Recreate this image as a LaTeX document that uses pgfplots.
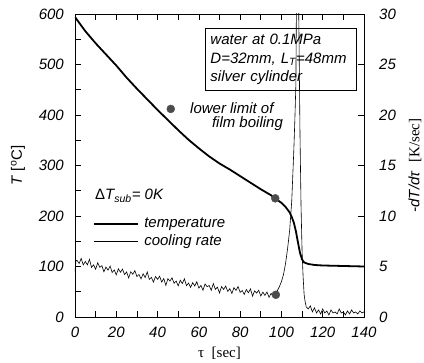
\documentclass[border=0pt]{standalone}
\usepackage{pgfplots}
\pgfplotsset{compat=1.18}
\usepackage{fontspec}
\setmainfont{Liberation Sans}
\newfontfamily\tnr{Liberation Serif}
\newcommand{\fs}{\fontsize{15}{18.5}\selectfont}

\pgfplotstableread{
x T
0 594
5 566
10 542
15 520
20 498
25 474
30 452
35 431
40 410
45 390
50 370
55 351
60 334
65 318
70 304
75 292
80 279
85 266
90 253
95 241
97 235
100 226
102 218
104 207
105 198
106 187
107 170
108 148
109 127
110 114
111 108
113 105
116 103
120 102
130 101
140 100
}\temptable

\pgfplotstableread{
x r
0 4.5
0.5 5.6
1 5.60
2 5.30
3 5.80
4 5.15
5 5.50
6 5.16
7 5.71
8 4.91
9 5.16
10 4.72
11 5.37
12 4.92
13 5.08
14 4.48
15 4.94
16 4.64
17 5.05
18 4.41
19 4.66
20 4.17
21 4.77
22 4.43
23 4.74
24 4.20
25 4.46
26 3.86
27 4.47
28 4.23
29 4.59
30 4.00
31 4.21
32 3.77
33 4.28
34 3.90
35 4.46
36 3.72
37 3.93
38 3.45
39 4.01
40 3.72
41 4.04
42 3.45
43 3.81
44 3.13
45 3.79
46 3.56
47 3.88
48 3.34
49 3.56
50 3.08
51 3.64
52 3.31
53 3.78
54 3.10
55 3.36
56 2.93
57 3.40
58 3.07
59 3.49
60 2.86
61 3.13
62 2.65
63 3.27
64 3.00
65 3.12
66 2.64
67 3.31
68 2.74
69 2.96
70 2.38
71 3.01
72 2.73
73 3.06
74 2.53
75 2.81
76 2.33
77 2.91
78 2.63
79 3.01
80 2.44
81 2.62
82 2.24
83 2.72
84 2.40
85 2.78
86 2.06
87 2.59
88 2.37
89 2.65
90 2.08
91 2.46
92 2.14
93 2.47
94 1.95
95 2.33
96 2.11
97 2.25
98 2.6
99 3.0
100 3.5
101 4.2
102 5.3
103 6.8
104 8.6
105 11.5
106 16.5
106.5 19.5
107 23
107.5 38
108 36
108.5 28
109 18
109.5 11
110 6.5
110.5 4.0
111 2.2
111.5 1.5
112 1.0
113 0.8
114 1.1
115 0.5
116 0.9
117 0.4
118 0.7
119 0.3
120 0.8
121 0.4
122 0.6
123 0.2
124 0.7
125 0.4
126 0.5
127 0.3
128 0.8
129 0.4
130 0.5
131 0.2
132 0.6
133 0.3
134 0.7
135 0.4
136 0.5
137 0.3
138 0.6
139 0.4
140 0.5
}\ratetable

\begin{document}
\begin{tikzpicture}
\path[use as bounding box] (-75pt,-46pt) rectangle (349pt,317pt);
\pgfplotsset{
 common/.style={
  at={(0pt,0pt)}, anchor=south west, scale only axis, width=289pt, height=303pt,
  xmin=0, xmax=140,
  tick align=inside,
  major tick length=6pt, minor tick length=6pt,
  every tick/.style={black, line width=0.7pt},
  axis line style={line width=0.8pt},
  tick label style={font=\fs\itshape},
  /pgf/number format/assume math mode=true,
  label style={font=\fs},
 }
}
\begin{axis}[common,
 ymin=0, ymax=600,
 xtick={0,20,...,140}, minor x tick num=1,
 ytick={0,100,...,600}, minor y tick num=1,
 ytick pos=left,
 yticklabel style={inner sep=0pt, xshift=-11pt},
 xticklabel style={inner sep=0pt, yshift=-10pt},
 xlabel={{\tnr τ\ \ [sec]}},
 ylabel={\textit{T} [\textsuperscript{o}C]},
 xlabel style={at={(axis description cs:0.5,-0.119)}, anchor=center},
 ylabel style={at={(axis description cs:-0.197,0.5)}, anchor=center},
 legend style={at={(axis cs:8.6,166.5)}, anchor=west, draw=none, fill=none,
   font=\fs\itshape, inner sep=0pt, row sep=0pt, column sep=0pt,
   nodes={inner xsep=5.5pt, inner ysep=1.6pt, text height=11pt, text depth=3.5pt}},
 legend cell align=left,
 legend image code/.code={\draw[#1] (0pt,0pt) -- (44pt,0pt);},
]
\addplot[black, line width=1.8pt] table[x=x,y=T] {\temptable};
\addlegendentry{temperature}
\addlegendimage{black, line width=0.6pt}
\addlegendentry{cooling rate}
\addplot[only marks, mark=*, mark size=4pt, draw=black!70, fill=black!70, forget plot] coordinates {(46.4,412) (97,235)};
\node[anchor=base west, font=\fs\itshape, inner sep=0pt] at (axis cs:9.7,232) {\upshape Δ\itshape T\textsubscript{sub}= 0K};
\node[anchor=west, font=\fs\itshape, inner sep=0pt] at (axis cs:55.7,414) {lower limit of};
\node[anchor=east, font=\fs\itshape, inner sep=0pt] at (axis cs:100.8,382) {film boiling};
\node[draw, line width=0.8pt, fill=white, anchor=north west, font=\fs\itshape, align=left,
      text width=141pt, inner xsep=5pt, inner ysep=6pt] at (axis cs:63,573)
  {water at 0.1MPa\\D=32mm, L\textsubscript{T}=48mm\\silver cylinder};
\end{axis}
\begin{axis}[common,
 ymin=0, ymax=30,
 axis y line*=right, axis x line=none,
 ytick={0,5,...,30},
 yticklabel style={inner sep=0pt, xshift=15pt},
 ylabel={\textit{-dT/dτ}\ \ {\tnr [K/sec]}},
 ylabel style={at={(axis description cs:1.176,0.5)}, anchor=center, rotate=0},
]
\addplot[black, line width=0.6pt] table[x=x,y=r] {\ratetable};
\addplot[only marks, mark=*, mark size=4pt, draw=black!70, fill=black!70] coordinates {(97.3,2.2)};
\end{axis}
\end{tikzpicture}
\end{document}
